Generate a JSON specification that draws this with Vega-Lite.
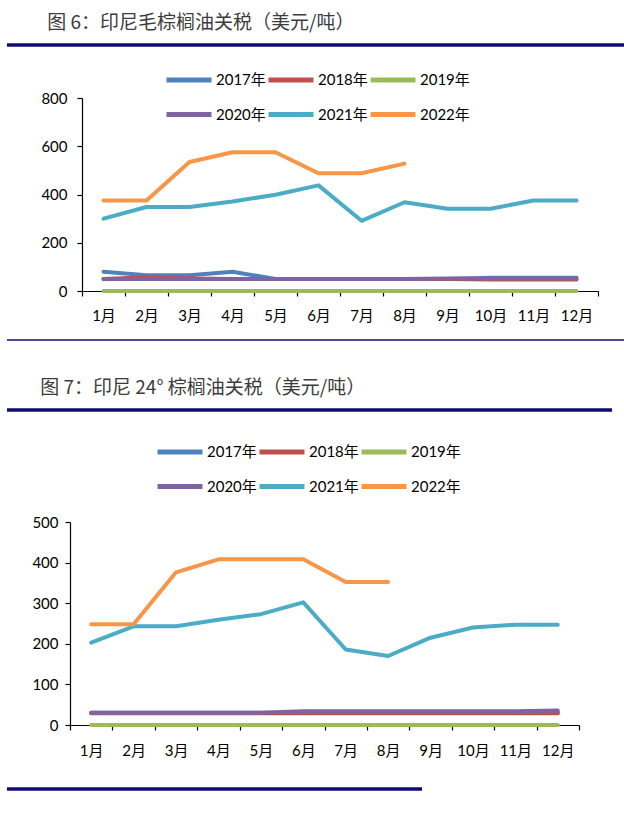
{
  "$schema": "https://vega.github.io/schema/vega-lite/v6.json",
  "background": "white",
  "padding": {"left": 5, "top": 14, "right": 0, "bottom": 0},
  "spacing": 16,
  "columns": 1,
  "bounds": "full",
  "align": "none",
  "resolve": {"scale": {"color": "independent"}, "legend": {"color": "independent"}},
  "config": {
    "view": {"stroke": null},
    "font": "Lato",
    "axis": {"domainColor": "#000", "tickColor": "#000", "labelColor": "#000", "labelFont": "Lato, Noto Sans CJK SC", "labelFontSize": 15, "grid": false, "title": null, "domainWidth": 1.2, "tickWidth": 1.2},
    "legend": {"orient": "none", "direction": "horizontal", "columns": 3, "title": null, "symbolType": "M-2,0H2", "symbolSize": 506, "symbolStrokeWidth": 5, "labelFont": "Lato, Noto Sans CJK SC", "labelFontSize": 15, "labelColor": "#000", "columnPadding": -8, "rowPadding": 10.5, "labelOffset": 13}
  },
  "datasets": {
    "c1": [
      {"y": "2017年", "m": "1月", "v": 80}, {"y": "2017年", "m": "2月", "v": 65}, {"y": "2017年", "m": "3月", "v": 65}, {"y": "2017年", "m": "4月", "v": 80}, {"y": "2017年", "m": "5月", "v": 50}, {"y": "2017年", "m": "6月", "v": 50}, {"y": "2017年", "m": "7月", "v": 50}, {"y": "2017年", "m": "8月", "v": 50}, {"y": "2017年", "m": "9月", "v": 50}, {"y": "2017年", "m": "10月", "v": 55}, {"y": "2017年", "m": "11月", "v": 55}, {"y": "2017年", "m": "12月", "v": 55},
      {"y": "2018年", "m": "1月", "v": 50}, {"y": "2018年", "m": "2月", "v": 57}, {"y": "2018年", "m": "3月", "v": 52}, {"y": "2018年", "m": "4月", "v": 50}, {"y": "2018年", "m": "5月", "v": 50}, {"y": "2018年", "m": "6月", "v": 50}, {"y": "2018年", "m": "7月", "v": 50}, {"y": "2018年", "m": "8月", "v": 50}, {"y": "2018年", "m": "9月", "v": 50}, {"y": "2018年", "m": "10月", "v": 48}, {"y": "2018年", "m": "11月", "v": 48}, {"y": "2018年", "m": "12月", "v": 48},
      {"y": "2019年", "m": "1月", "v": 0}, {"y": "2019年", "m": "2月", "v": 0}, {"y": "2019年", "m": "3月", "v": 0}, {"y": "2019年", "m": "4月", "v": 0}, {"y": "2019年", "m": "5月", "v": 0}, {"y": "2019年", "m": "6月", "v": 0}, {"y": "2019年", "m": "7月", "v": 0}, {"y": "2019年", "m": "8月", "v": 0}, {"y": "2019年", "m": "9月", "v": 0}, {"y": "2019年", "m": "10月", "v": 0}, {"y": "2019年", "m": "11月", "v": 0}, {"y": "2019年", "m": "12月", "v": 0},
      {"y": "2020年", "m": "1月", "v": 50}, {"y": "2020年", "m": "2月", "v": 50}, {"y": "2020年", "m": "3月", "v": 50}, {"y": "2020年", "m": "4月", "v": 50}, {"y": "2020年", "m": "5月", "v": 50}, {"y": "2020年", "m": "6月", "v": 50}, {"y": "2020年", "m": "7月", "v": 50}, {"y": "2020年", "m": "8月", "v": 50}, {"y": "2020年", "m": "9月", "v": 52}, {"y": "2020年", "m": "10月", "v": 52}, {"y": "2020年", "m": "11月", "v": 52}, {"y": "2020年", "m": "12月", "v": 52},
      {"y": "2021年", "m": "1月", "v": 300}, {"y": "2021年", "m": "2月", "v": 348}, {"y": "2021年", "m": "3月", "v": 348}, {"y": "2021年", "m": "4月", "v": 371}, {"y": "2021年", "m": "5月", "v": 399}, {"y": "2021年", "m": "6月", "v": 438}, {"y": "2021年", "m": "7月", "v": 291}, {"y": "2021年", "m": "8月", "v": 368}, {"y": "2021年", "m": "9月", "v": 341}, {"y": "2021年", "m": "10月", "v": 341}, {"y": "2021年", "m": "11月", "v": 375}, {"y": "2021年", "m": "12月", "v": 375},
      {"y": "2022年", "m": "1月", "v": 375}, {"y": "2022年", "m": "2月", "v": 375}, {"y": "2022年", "m": "3月", "v": 535}, {"y": "2022年", "m": "4月", "v": 575}, {"y": "2022年", "m": "5月", "v": 575}, {"y": "2022年", "m": "6月", "v": 488}, {"y": "2022年", "m": "7月", "v": 488}, {"y": "2022年", "m": "8月", "v": 528}
    ],
    "c2": [
      {"y": "2017年", "m": "1月", "v": 30}, {"y": "2017年", "m": "2月", "v": 30}, {"y": "2017年", "m": "3月", "v": 30}, {"y": "2017年", "m": "4月", "v": 30}, {"y": "2017年", "m": "5月", "v": 30}, {"y": "2017年", "m": "6月", "v": 30}, {"y": "2017年", "m": "7月", "v": 30}, {"y": "2017年", "m": "8月", "v": 30}, {"y": "2017年", "m": "9月", "v": 30}, {"y": "2017年", "m": "10月", "v": 30}, {"y": "2017年", "m": "11月", "v": 30}, {"y": "2017年", "m": "12月", "v": 30},
      {"y": "2018年", "m": "1月", "v": 29}, {"y": "2018年", "m": "2月", "v": 29}, {"y": "2018年", "m": "3月", "v": 29}, {"y": "2018年", "m": "4月", "v": 29}, {"y": "2018年", "m": "5月", "v": 29}, {"y": "2018年", "m": "6月", "v": 29}, {"y": "2018年", "m": "7月", "v": 29}, {"y": "2018年", "m": "8月", "v": 29}, {"y": "2018年", "m": "9月", "v": 29}, {"y": "2018年", "m": "10月", "v": 29}, {"y": "2018年", "m": "11月", "v": 29}, {"y": "2018年", "m": "12月", "v": 29},
      {"y": "2019年", "m": "1月", "v": 0}, {"y": "2019年", "m": "2月", "v": 0}, {"y": "2019年", "m": "3月", "v": 0}, {"y": "2019年", "m": "4月", "v": 0}, {"y": "2019年", "m": "5月", "v": 0}, {"y": "2019年", "m": "6月", "v": 0}, {"y": "2019年", "m": "7月", "v": 0}, {"y": "2019年", "m": "8月", "v": 0}, {"y": "2019年", "m": "9月", "v": 0}, {"y": "2019年", "m": "10月", "v": 0}, {"y": "2019年", "m": "11月", "v": 0}, {"y": "2019年", "m": "12月", "v": 0},
      {"y": "2020年", "m": "1月", "v": 30}, {"y": "2020年", "m": "2月", "v": 30}, {"y": "2020年", "m": "3月", "v": 30}, {"y": "2020年", "m": "4月", "v": 30}, {"y": "2020年", "m": "5月", "v": 30}, {"y": "2020年", "m": "6月", "v": 34}, {"y": "2020年", "m": "7月", "v": 34}, {"y": "2020年", "m": "8月", "v": 34}, {"y": "2020年", "m": "9月", "v": 34}, {"y": "2020年", "m": "10月", "v": 34}, {"y": "2020年", "m": "11月", "v": 34}, {"y": "2020年", "m": "12月", "v": 36},
      {"y": "2021年", "m": "1月", "v": 203}, {"y": "2021年", "m": "2月", "v": 243}, {"y": "2021年", "m": "3月", "v": 243}, {"y": "2021年", "m": "4月", "v": 259}, {"y": "2021年", "m": "5月", "v": 273}, {"y": "2021年", "m": "6月", "v": 302}, {"y": "2021年", "m": "7月", "v": 186}, {"y": "2021年", "m": "8月", "v": 170}, {"y": "2021年", "m": "9月", "v": 215}, {"y": "2021年", "m": "10月", "v": 240}, {"y": "2021年", "m": "11月", "v": 247}, {"y": "2021年", "m": "12月", "v": 247},
      {"y": "2022年", "m": "1月", "v": 248}, {"y": "2022年", "m": "2月", "v": 248}, {"y": "2022年", "m": "3月", "v": 376}, {"y": "2022年", "m": "4月", "v": 408}, {"y": "2022年", "m": "5月", "v": 408}, {"y": "2022年", "m": "6月", "v": 408}, {"y": "2022年", "m": "7月", "v": 352}, {"y": "2022年", "m": "8月", "v": 352}
    ],
    "rule": [{"v": 0}]
  },
  "concat": [
    {
      "width": 619, "height": 5,
      "title": {"text": "图 6：印尼毛棕榈油关税（美元/吨）", "anchor": "start", "dx": 42, "fontSize": 19, "font": "Noto Sans CJK SC", "fontWeight": "normal", "color": "#3c3c3c", "offset": 10},
      "data": {"name": "rule"},
      "mark": {"type": "rule", "color": "#0c0c72", "strokeWidth": 3.5},
      "encoding": {"y": {"field": "v", "type": "quantitative", "scale": {"domain": [-1, 0]}, "axis": null}}
    },
    {
      "width": 614, "height": 193,
      "data": {"name": "c1"},
      "mark": {"type": "line", "strokeWidth": 4, "strokeJoin": "round", "strokeCap": "round"},
      "encoding": {
        "x": {"field": "m", "type": "ordinal", "sort": ["1月", "2月", "3月", "4月", "5月", "6月", "7月", "8月", "9月", "10月", "11月", "12月"], "scale": {"type": "band", "paddingInner": 0, "paddingOuter": 0, "range": [75, 591]}, "axis": {"labelAngle": 0, "tickBand": "extent", "tickSize": 5, "labelPadding": 12}},
        "y": {"field": "v", "type": "quantitative", "scale": {"domain": [0, 800]}, "axis": {"values": [0, 200, 400, 600, 800], "tickSize": 5, "labelPadding": 10, "offset": -75}},
        "color": {"field": "y", "type": "nominal", "scale": {"domain": ["2017年", "2018年", "2019年", "2020年", "2021年", "2022年"], "range": ["#4F81BD", "#C0504D", "#9BBB59", "#8064A2", "#4BACC6", "#F79646"]},
          "legend": {"legendX": 168, "legendY": -32}}
      }
    },
    {
      "width": 619, "height": 23,
      "data": {"name": "rule"},
      "mark": {"type": "rule", "color": "#0c0c72", "strokeWidth": 1.5},
      "encoding": {"y": {"field": "v", "type": "quantitative", "scale": {"domain": [-1, 0]}, "axis": null}}
    },
    {
      "width": 605, "height": 12,
      "title": {"text": "图 7：印尼 24° 棕榈油关税（美元/吨）", "anchor": "start", "dx": 35, "fontSize": 19, "font": "Noto Sans CJK SC", "fontWeight": "normal", "color": "#3c3c3c", "offset": 10},
      "data": {"name": "rule"},
      "mark": {"type": "rule", "color": "#0c0c72", "strokeWidth": 3.5},
      "encoding": {"y": {"field": "v", "type": "quantitative", "scale": {"domain": [-1, 0]}, "axis": null}}
    },
    {
      "width": 600, "height": 203,
      "data": {"name": "c2"},
      "mark": {"type": "line", "strokeWidth": 4, "strokeJoin": "round", "strokeCap": "round"},
      "encoding": {
        "x": {"field": "m", "type": "ordinal", "sort": ["1月", "2月", "3月", "4月", "5月", "6月", "7月", "8月", "9月", "10月", "11月", "12月"], "scale": {"type": "band", "paddingInner": 0, "paddingOuter": 0, "range": [63, 572]}, "axis": {"labelAngle": 0, "tickBand": "extent", "tickSize": 5, "labelPadding": 13}},
        "y": {"field": "v", "type": "quantitative", "scale": {"domain": [0, 500]}, "axis": {"values": [0, 100, 200, 300, 400, 500], "tickSize": 5, "labelPadding": 7, "offset": -63}},
        "color": {"field": "y", "type": "nominal", "scale": {"domain": ["2017年", "2018年", "2019年", "2020年", "2021年", "2022年"], "range": ["#4F81BD", "#C0504D", "#9BBB59", "#8064A2", "#4BACC6", "#F79646"]},
          "legend": {"legendX": 159, "legendY": -84}}
      }
    },
    {
      "width": 415, "height": 15,
      "data": {"name": "rule"},
      "mark": {"type": "rule", "color": "#0c0c72", "strokeWidth": 3.5},
      "encoding": {"y": {"field": "v", "type": "quantitative", "scale": {"domain": [0, 1]}, "axis": null}}
    }
  ]
}
